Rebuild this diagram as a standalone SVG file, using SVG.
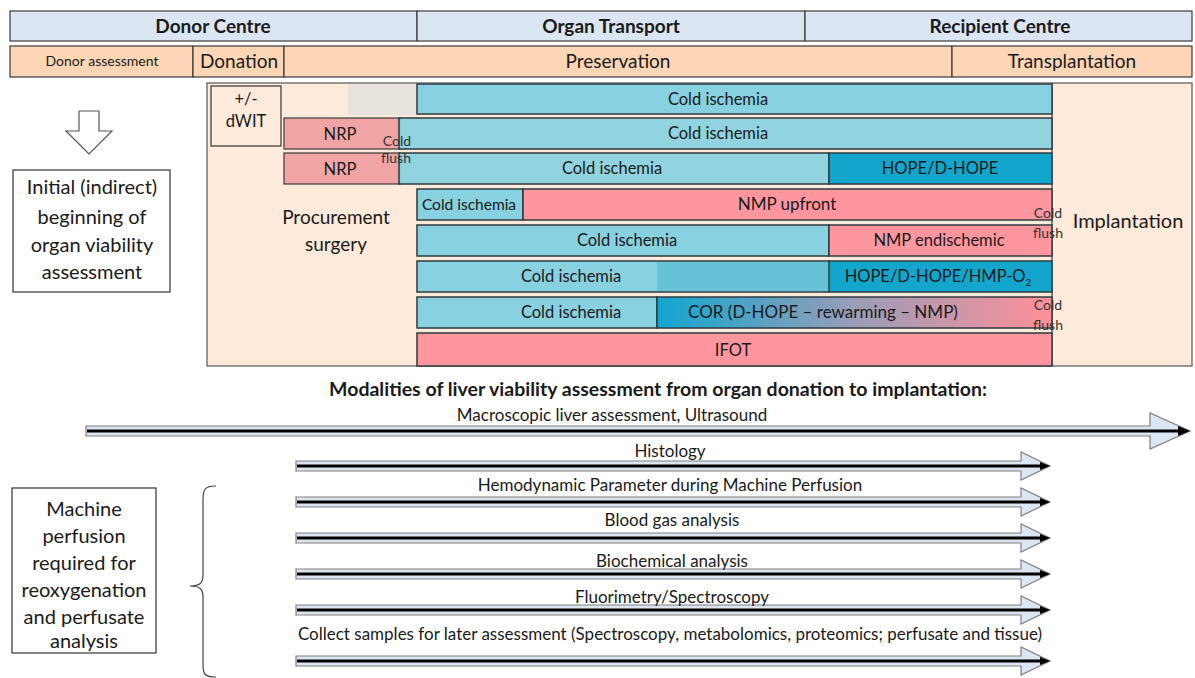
<svg xmlns="http://www.w3.org/2000/svg" width="1195" height="678" viewBox="0 0 1195 678">
<style>
text{font-family:Lato,"Liberation Sans",sans-serif;fill:#1a1a1a;text-anchor:middle;}
.hd{font-weight:bold;font-size:19px;}
.t19{font-size:19px;}
.t20{font-size:20px;}
.t16{font-size:16.5px;}
.t17{font-size:17px;}
.sm{font-size:14px;fill:#333;}
.hdr{fill:#dce6f2;stroke:#3a3a3a;stroke-width:1.2;}
.ph{fill:#fcd5b5;stroke:#3a3a3a;stroke-width:1.2;}
.ci{fill:#88d1e0;stroke:#2f3a40;stroke-width:1.5;}
.hope{fill:#12a6cc;stroke:#2f3a40;stroke-width:1.5;}
.nmp{fill:#ff969f;stroke:#2f3a40;stroke-width:1.5;}
.nrp{fill:#f0a4a4;stroke:#3a3a3a;stroke-width:1.2;}
.box{fill:#fff;stroke:#333;stroke-width:1.2;}
.ash{fill:#dce6f2;stroke:#7f7f7f;stroke-width:1.2;}
.bl{stroke:#000;stroke-width:3;fill:none;}
</style>
<defs>
<linearGradient id="cor" x1="0" x2="1" y1="0" y2="0">
<stop offset="0" stop-color="#12a6d0"/>
<stop offset="0.5" stop-color="#9a9db8"/>
<stop offset="1" stop-color="#ff8f98"/>
</linearGradient>
</defs>
<rect width="1195" height="678" fill="#fff"/>

<g id="header">
<rect class="hdr" x="10" y="11" width="407" height="30"/>
<rect class="hdr" x="417" y="11" width="388" height="30"/>
<rect class="hdr" x="805" y="11" width="387" height="30"/>
<text class="hd" x="213" y="33">Donor Centre</text>
<text class="hd" x="611" y="33">Organ Transport</text>
<text class="hd" x="1000" y="33">Recipient Centre</text>
</g>

<g id="phases">
<rect class="ph" x="10" y="46" width="183" height="31"/>
<rect class="ph" x="193" y="46" width="91" height="31"/>
<rect class="ph" x="284" y="46" width="668" height="31"/>
<rect class="ph" x="952" y="46" width="240" height="31"/>
<text x="102" y="66" style="font-size:14px">Donor assessment</text>
<text class="t19" x="239" y="68">Donation</text>
<text class="t19" x="618" y="68">Preservation</text>
<text class="t19" x="1072" y="68">Transplantation</text>
</g>

<g id="panel">
<rect x="207" y="83" width="985" height="283" fill="#fdeada" stroke="#555" stroke-width="1.2"/>
<line x1="1052" y1="83" x2="1052" y2="366" stroke="#333" stroke-width="1.2"/>
<rect x="348" y="84" width="69" height="31" fill="#e7e3dc"/>
</g>

<g id="dwit">
<rect x="211" y="86" width="70" height="60" fill="#fdeada" stroke="#333" stroke-width="1.2"/>
<text class="t16" x="246" y="105">+/-</text>
<text class="t16" x="246" y="127">dWIT</text>
</g>

<g id="procurement">
<text class="t19" x="336" y="224">Procurement</text>
<text class="t19" x="336" y="251">surgery</text>
</g>
<g id="implantation">
<text class="t20" x="1128" y="228">Implantation</text>
</g>

<g id="row1">
<rect class="ci" x="417" y="84" width="635" height="30"/>
<text class="t16" x="718" y="105">Cold ischemia</text>
</g>
<g id="row2">
<rect class="nrp" x="284" y="118" width="116" height="31"/>
<rect class="ci" x="399" y="118" width="653" height="31" fill-opacity="0.92"/>
<text class="t16" x="340" y="140">NRP</text>
<text class="t16" x="718" y="139">Cold ischemia</text>
</g>
<g id="row3">
<rect class="nrp" x="284" y="153" width="116" height="31"/>
<rect class="ci" x="399" y="153" width="430" height="31" fill-opacity="0.92"/>
<rect class="hope" x="829" y="153" width="223" height="31"/>
<text class="t16" x="340" y="175">NRP</text>
<text class="t16" x="612" y="174">Cold ischemia</text>
<text class="t16" x="940" y="174">HOPE/D-HOPE</text>
</g>
<g id="flush1">
<text class="sm" x="397" y="146">Cold</text>
<text class="sm" x="396" y="163">flush</text>
</g>
<g id="row4">
<rect class="ci" x="417" y="189" width="106" height="31"/>
<rect class="nmp" x="523" y="189" width="529" height="31"/>
<text x="469" y="210" style="font-size:15.5px">Cold ischemia</text>
<text class="t17" x="787" y="210">NMP upfront</text>
</g>
<g id="row5">
<rect class="ci" x="417" y="225" width="412" height="31"/>
<rect class="nmp" x="829" y="225" width="223" height="31"/>
<text class="t16" x="627" y="246">Cold ischemia</text>
<text class="t16" x="939" y="246">NMP endischemic</text>
</g>
<g id="flush2">
<text class="sm" x="1048" y="218">Cold</text>
<text class="sm" x="1048" y="238">flush</text>
</g>
<g id="row6">
<rect class="ci" x="417" y="261" width="412" height="31"/>
<rect x="657" y="262" width="172" height="29" fill="#66c2d6"/>
<rect class="hope" x="829" y="261" width="223" height="31"/>
<text class="t16" x="571" y="282">Cold ischemia</text>
<text class="t16" x="938" y="282">HOPE/D-HOPE/HMP-O<tspan style="font-size:10px" dy="4">2</tspan></text>
</g>
<g id="row7">
<rect class="ci" x="417" y="297" width="240" height="31"/>
<rect x="657" y="297" width="395" height="31" fill="url(#cor)" stroke="#2f3a40" stroke-width="1.5"/>
<text class="t16" x="571" y="318">Cold ischemia</text>
<text class="t17" x="823" y="318">COR (D-HOPE – rewarming – NMP)</text>
</g>
<g id="flush3">
<text class="sm" x="1048" y="310">Cold</text>
<text class="sm" x="1048" y="330">flush</text>
</g>
<g id="row8">
<rect class="nmp" x="417" y="333" width="635" height="33"/>
<text class="t16" x="733" y="356">IFOT</text>
</g>

<g id="initial">
<polygon points="79,111 99,111 99,131 112,131 89,154 66,131 79,131" fill="#fff" stroke="#555" stroke-width="1.2"/>
<rect class="box" x="13" y="170" width="157" height="122"/>
<text class="t20" x="92" y="194">Initial (indirect)</text>
<text class="t20" x="92" y="224">beginning of</text>
<text class="t20" x="92" y="252">organ viability</text>
<text class="t20" x="92" y="279">assessment</text>
</g>

<g id="title">
<text x="658" y="396" style="font-size:19.5px;font-weight:bold">Modalities of liver viability assessment from organ donation to implantation:</text>
</g>

<g id="machine">
<rect class="box" x="12" y="488" width="144" height="165"/>
<text class="t20" x="84" y="516">Machine</text>
<text class="t20" x="84" y="543">perfusion</text>
<text class="t20" x="84" y="570">required for</text>
<text class="t20" x="84" y="597">reoxygenation</text>
<text class="t20" x="84" y="624">and perfusate</text>
<text class="t20" x="84" y="648">analysis</text>
<path d="M216,486 C204,486 203,490 203,500 L203,575 C203,583 200,586 190,586 C200,586 203,589 203,597 L203,664 C203,674 204,677 216,677" fill="none" stroke="#444" stroke-width="1.2"/>
</g>

<g id="connectors">
<g id="a-macro">
<polygon class="ash" points="86,426 1150,426 1150,413 1190,431 1150,449 1150,436 86,436"/>
<line class="bl" x1="87" y1="431" x2="1184" y2="431"/>
<polygon points="1178,426 1190,431 1178,436" fill="#000"/>
<text class="t17" x="612" y="421">Macroscopic liver assessment, Ultrasound</text>
</g>
<g id="a-hist">
<polygon class="ash" points="296,461 1021,461 1021,452 1050,466 1021,480 1021,471 296,471"/>
<line class="bl" x1="297" y1="466" x2="1044" y2="466"/>
<polygon points="1040,462 1050,466 1040,470" fill="#000"/>
<text class="t17" x="670" y="457">Histology</text>
</g>
<g id="a-hemo">
<polygon class="ash" points="296,497 1021,497 1021,488 1050,502 1021,516 1021,507 296,507"/>
<line class="bl" x1="297" y1="502" x2="1044" y2="502"/>
<polygon points="1040,498 1050,502 1040,506" fill="#000"/>
<text class="t17" x="670" y="491">Hemodynamic Parameter during Machine Perfusion</text>
</g>
<g id="a-gas">
<polygon class="ash" points="296,533 1021,533 1021,524 1050,538 1021,552 1021,543 296,543"/>
<line class="bl" x1="297" y1="538" x2="1044" y2="538"/>
<polygon points="1040,534 1050,538 1040,542" fill="#000"/>
<text class="t17" x="672" y="526">Blood gas analysis</text>
</g>
<g id="a-bio">
<polygon class="ash" points="296,569 1021,569 1021,560 1050,574 1021,588 1021,579 296,579"/>
<line class="bl" x1="297" y1="574" x2="1044" y2="574"/>
<polygon points="1040,570 1050,574 1040,578" fill="#000"/>
<text class="t17" x="672" y="567">Biochemical analysis</text>
</g>
<g id="a-fluo">
<polygon class="ash" points="296,605 1021,605 1021,596 1050,610 1021,624 1021,615 296,615"/>
<line class="bl" x1="297" y1="610" x2="1044" y2="610"/>
<polygon points="1040,606 1050,610 1040,614" fill="#000"/>
<text class="t17" x="672" y="603">Fluorimetry/Spectroscopy</text>
</g>
<g id="a-coll">
<polygon class="ash" points="296,656 1021,656 1021,647 1050,661 1021,675 1021,666 296,666"/>
<line class="bl" x1="297" y1="661" x2="1044" y2="661"/>
<polygon points="1040,657 1050,661 1040,665" fill="#000"/>
<text class="t17" x="670" y="640">Collect samples for later assessment (Spectroscopy, metabolomics, proteomics; perfusate and tissue)</text>
</g>
</g>
</svg>
